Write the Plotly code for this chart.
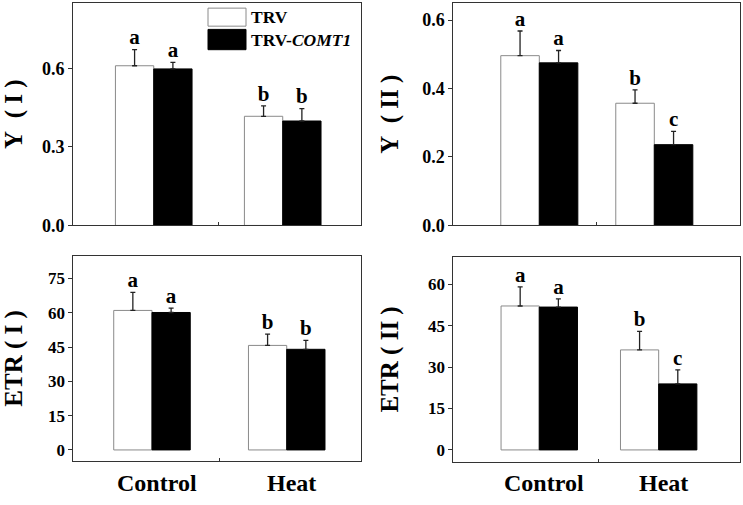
import plotly.graph_objects as go

# ---------------- data ----------------
categories = ["Control", "Heat"]
series_names = ["TRV", "TRV-COMT1"]

y1_trv = [0.610, 0.417]
y1_trv_err = [0.062, 0.040]
y1_comt = [0.598, 0.399]
y1_comt_err = [0.025, 0.047]
y1_trv_letters = ["a", "b"]
y1_comt_letters = ["a", "b"]

y2_trv = [0.496, 0.357]
y2_trv_err = [0.072, 0.039]
y2_comt = [0.475, 0.236]
y2_comt_err = [0.036, 0.039]
y2_trv_letters = ["a", "b"]
y2_comt_letters = ["a", "c"]

etr1_trv = [61.0, 45.7]
etr1_trv_err = [7.9, 4.9]
etr1_comt = [60.1, 44.0]
etr1_comt_err = [1.9, 3.9]
etr1_trv_letters = ["a", "b"]
etr1_comt_letters = ["a", "b"]

etr2_trv = [52.1, 36.2]
etr2_trv_err = [6.9, 6.7]
etr2_comt = [51.7, 23.9]
etr2_comt_err = [3.0, 5.1]
etr2_trv_letters = ["a", "b"]
etr2_comt_letters = ["a", "c"]

EN = "\u2002"
y_titles = [f"Y{EN}( I )", f"Y{EN}( II )", "ETR ( I )", "ETR ( II )"]
y_ticks_1 = [0.0, 0.3, 0.6]
y_ticks_2 = [0.0, 0.2, 0.4, 0.6]
y_ticks_3 = [0, 15, 30, 45, 60, 75]
y_ticks_4 = [0, 15, 30, 45, 60]

# ---------------- layout helpers ----------------
W, H = 743, 505
FONT = "Liberation Serif"


def dx(a, b):
    return [a / W, b / W]


def dy(top, bottom):
    return [1 - bottom / H, 1 - top / H]


panels = [
    dict(trv=y1_trv, trv_e=y1_trv_err, comt=y1_comt, comt_e=y1_comt_err,
         lt=y1_trv_letters, lc=y1_comt_letters, ticks=y_ticks_1, fmt=".1f",
         xd=dx(73, 360.5), yd=dy(3, 230), xr=[-0.626, 1.603], yr=[0, 0.85],
         w=0.297, title=y_titles[0], standoff=16, tfs=18),
    dict(trv=y2_trv, trv_e=y2_trv_err, comt=y2_comt, comt_e=y2_comt_err,
         lt=y2_trv_letters, lc=y2_comt_letters, ticks=y_ticks_2, fmt=".1f",
         xd=dx(453.3, 739.5), yd=dy(3, 230), xr=[-0.748, 1.741], yr=[0, 0.65],
         w=0.335, title=y_titles[1], standoff=16, tfs=18),
    dict(trv=etr1_trv, trv_e=etr1_trv_err, comt=etr1_comt, comt_e=etr1_comt_err,
         lt=etr1_trv_letters, lc=etr1_comt_letters, ticks=y_ticks_3, fmt="d",
         xd=dx(73.3, 360.7), yd=dy(260.7, 470.7), xr=[-0.584, 1.549], yr=[-5, 85],
         w=0.284, title=y_titles[2], standoff=18, tfs=17),
    dict(trv=etr2_trv, trv_e=etr2_trv_err, comt=etr2_comt, comt_e=etr2_comt_err,
         lt=etr2_trv_letters, lc=etr2_comt_letters, ticks=y_ticks_4, fmt="d",
         xd=dx(453.3, 740), yd=dy(261.7, 471.7), xr=[-0.72, 1.681], yr=[-4.5, 70],
         w=0.32, title=y_titles[3], standoff=22, tfs=17),
]

fig = go.Figure()
idx = list(range(len(categories)))
annotations = []

for k, p in enumerate(panels, start=1):
    xa = "x" if k == 1 else f"x{k}"
    ya = "y" if k == 1 else f"y{k}"
    w = p["w"]
    fig.add_trace(go.Bar(
        x=idx, y=p["trv"], width=w, offset=-w, name=series_names[0],
        marker=dict(color="white", line=dict(color="#8a8a8a", width=1)),
        error_y=dict(type="data", array=p["trv_e"], arrayminus=[0] * len(idx),
                     symmetric=False, color="#222", thickness=1.3, width=2.5),
        xaxis=xa, yaxis=ya, showlegend=False))
    fig.add_trace(go.Bar(
        x=idx, y=p["comt"], width=w, offset=0, name=series_names[1],
        marker=dict(color="black", line=dict(color="black", width=1)),
        error_y=dict(type="data", array=p["comt_e"], arrayminus=[0] * len(idx),
                     symmetric=False, color="#222", thickness=1.3, width=2.5),
        xaxis=xa, yaxis=ya, showlegend=False))
    # significance letters
    fig.add_trace(go.Scatter(
        x=[i - w / 2 for i in idx], y=[v + e for v, e in zip(p["trv"], p["trv_e"])],
        mode="text", text=[f"<b>{t}</b>" for t in p["lt"]], textposition="top center",
        textfont=dict(family=FONT, size=21, color="black"),
        xaxis=xa, yaxis=ya, showlegend=False, cliponaxis=False))
    fig.add_trace(go.Scatter(
        x=[i + w / 2 for i in idx], y=[v + e for v, e in zip(p["comt"], p["comt_e"])],
        mode="text", text=[f"<b>{t}</b>" for t in p["lc"]], textposition="top center",
        textfont=dict(family=FONT, size=21, color="black"),
        xaxis=xa, yaxis=ya, showlegend=False, cliponaxis=False))

    xkey = "xaxis" if k == 1 else f"xaxis{k}"
    ykey = "yaxis" if k == 1 else f"yaxis{k}"
    fig.layout[xkey] = dict(
        domain=p["xd"], range=p["xr"], anchor=ya, showgrid=False, zeroline=False,
        showline=True, mirror=True, linecolor="#333", linewidth=1,
        tickvals=[0.5], ticktext=[""], ticks="inside", ticklen=3,
        tickcolor="#333", fixedrange=True)
    fig.layout[ykey] = dict(
        domain=p["yd"], range=p["yr"], anchor=xa, showgrid=False, zeroline=False,
        showline=True, mirror=True, linecolor="#333", linewidth=1,
        tickvals=p["ticks"], ticktext=[f"<b>{v:{p['fmt']}}</b>" for v in p["ticks"]],
        ticks="outside", ticklen=4, tickcolor="#333",
        tickfont=dict(family=FONT, size=p["tfs"], color="black"),
        title=dict(text=f"<b>{p['title']}</b>", standoff=p["standoff"],
                   font=dict(family=FONT, size=25, color="black")),
        fixedrange=True)

    if k >= 3:
        for i, c in zip(idx, categories):
            annotations.append(dict(
                x=i, xref=xa, y=1 - 493 / H, yref="paper", text=f"<b>{c}</b>",
                showarrow=False, xanchor="center", yanchor="middle", xshift=5,
                font=dict(family=FONT, size=24, color="black")))

# legend (drawn in panel 1)
shapes = [
    dict(type="rect", xref="paper", yref="paper",
         x0=208 / W, x1=246 / W, y0=1 - 26.7 / H, y1=1 - 8.3 / H,
         fillcolor="white", line=dict(color="#8a8a8a", width=1)),
    dict(type="rect", xref="paper", yref="paper",
         x0=208 / W, x1=246 / W, y0=1 - 50.7 / H, y1=1 - 30 / H,
         fillcolor="black", line=dict(color="black", width=1)),
]
annotations.append(dict(x=249 / W, y=1 - 17.5 / H, xref="paper", yref="paper",
                        text="<b>TRV</b>", showarrow=False, xanchor="left",
                        yanchor="middle", font=dict(family=FONT, size=17.5, color="black")))
annotations.append(dict(x=249 / W, y=1 - 40.5 / H, xref="paper", yref="paper",
                        text="<b>TRV-<i>COMT1</i></b>", showarrow=False, xanchor="left",
                        yanchor="middle", font=dict(family=FONT, size=17.5, color="black")))

fig.update_layout(
    width=W, height=H, margin=dict(l=0, r=0, t=0, b=0),
    paper_bgcolor="white", plot_bgcolor="white",
    barmode="overlay", showlegend=False,
    shapes=shapes, annotations=annotations,
    font=dict(family=FONT, color="black"),
)

fig.write_html(
    "out.html",
    config={"displayModeBar": False},
    post_script="document.body.style.margin='0';document.body.style.overflow='hidden';",
)
